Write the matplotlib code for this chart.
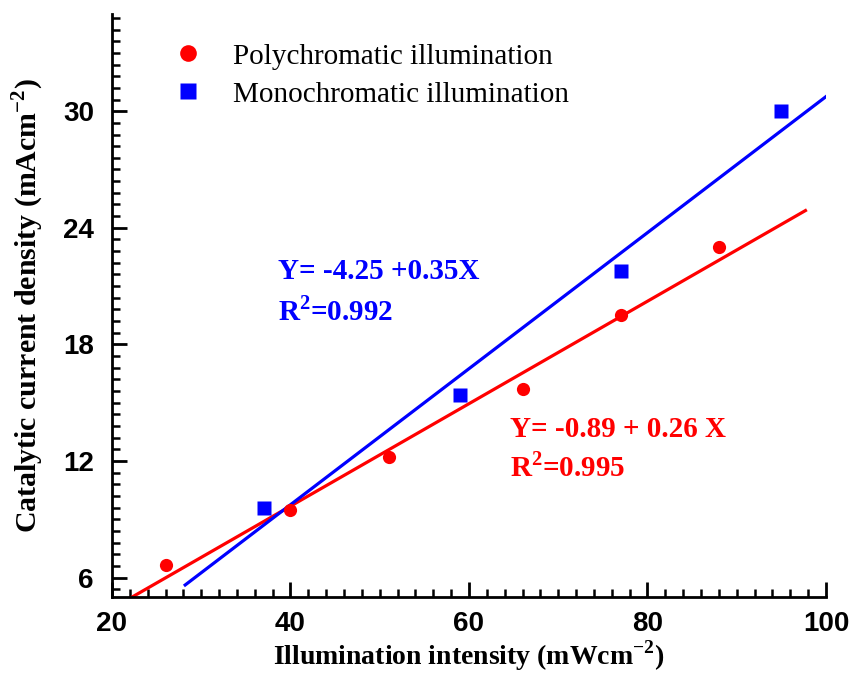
import numpy as np
import matplotlib
matplotlib.use("Agg")
import matplotlib.pyplot as plt
from matplotlib.ticker import MultipleLocator
from matplotlib.lines import Line2D

plt.rcParams["mathtext.fontset"] = "custom"
plt.rcParams["mathtext.rm"] = "Liberation Serif"
plt.rcParams["mathtext.bf"] = "Liberation Serif:bold"

# data
poly_x = [26, 40, 51, 66, 77, 88]
poly_y = [6.63, 9.5, 12.2, 15.7, 19.5, 23.0]
mono_x = [37, 59, 77, 95]
mono_y = [9.6, 15.4, 21.8, 30.0]
poly_fit_range = [20, 97.7]
mono_fit_range = [28.2, 100]

RED, BLUE = "#ff0000", "#0000ff"
SERIF = "Liberation Serif"
SANS = "Liberation Sans"

fig = plt.figure(figsize=(8.51, 6.74), dpi=100)
ax = fig.add_axes([0.1316, 0.1142, 0.8390, 0.8650])

# linear fits
pk = np.polyfit(poly_x, poly_y, 1)
mk = np.polyfit(mono_x, mono_y, 1)
px = np.array(poly_fit_range)
mx = np.array(mono_fit_range)
ax.plot(px, np.polyval(pk, px), color=RED, lw=2.3, zorder=2)
ax.plot(mx, np.polyval(mk, mx), color=BLUE, lw=2.3, zorder=2)

ax.plot(poly_x, poly_y, "o", color=RED, ms=9.5, mec="none", zorder=3)
ax.plot(mono_x, mono_y, "s", color=BLUE, ms=10, mec="none", zorder=3)

ax.set_xlim(20, 100)
ax.set_ylim(5, 35)
ax.xaxis.set_major_locator(MultipleLocator(20))
ax.xaxis.set_minor_locator(MultipleLocator(2))
ax.yaxis.set_major_locator(MultipleLocator(6))
ax.yaxis.set_minor_locator(MultipleLocator(0.6))

ax.spines["top"].set_visible(False)
ax.spines["right"].set_visible(False)
for s in ("left", "bottom"):
    ax.spines[s].set_linewidth(2.0)
ax.tick_params(which="major", direction="in", length=11, width=2.0)
ax.tick_params(which="minor", direction="in", length=6, width=1.8)
ax.tick_params(axis="y", which="major", pad=13)
ax.tick_params(axis="x", which="major", pad=10)
for lab in ax.get_xticklabels() + ax.get_yticklabels():
    lab.set_fontfamily(SANS)
    lab.set_fontweight("bold")
    lab.set_fontsize(20)

ax.set_xlabel(r"Illumination intensity (mWcm$^{\mathbf{-2}}$)", fontfamily=SERIF,
              fontweight="bold", fontsize=20, labelpad=1)
ax.set_ylabel(r"Catalytic current density (mAcm$^{\mathbf{-2}}$)", fontfamily=SERIF,
              fontweight="bold", fontsize=21.5, labelpad=12)

handles = [
    Line2D([0], [0], marker="o", ls="none", color=RED, ms=12, mec="none",
           label="Polychromatic illumination"),
    Line2D([0], [0], marker="s", ls="none", color=BLUE, ms=12, mec="none",
           label="Monochromatic illumination"),
]
ax.legend(handles=handles, loc="upper left", bbox_to_anchor=(0.049, 0.970), frameon=False,
          prop={"family": SERIF, "size": 21}, handlelength=2.0, handletextpad=0.55,
          labelspacing=0.4, borderaxespad=0)

ax.text(38.6, 21.76, "Y= -4.25 +0.35X", color=BLUE, fontfamily=SERIF,
        fontweight="bold", fontsize=21, va="center")
ax.text(38.6, 19.7, r"R$^{\mathbf{2}}$=0.992", color=BLUE, fontfamily=SERIF,
        fontweight="bold", fontsize=21, va="center")
ax.text(64.6, 13.6, "Y= -0.89 + 0.26 X", color=RED, fontfamily=SERIF,
        fontweight="bold", fontsize=21, va="center")
ax.text(64.6, 11.66, r"R$^{\mathbf{2}}$=0.995", color=RED, fontfamily=SERIF,
        fontweight="bold", fontsize=21, va="center")

fig.savefig("out.png", dpi=100)
